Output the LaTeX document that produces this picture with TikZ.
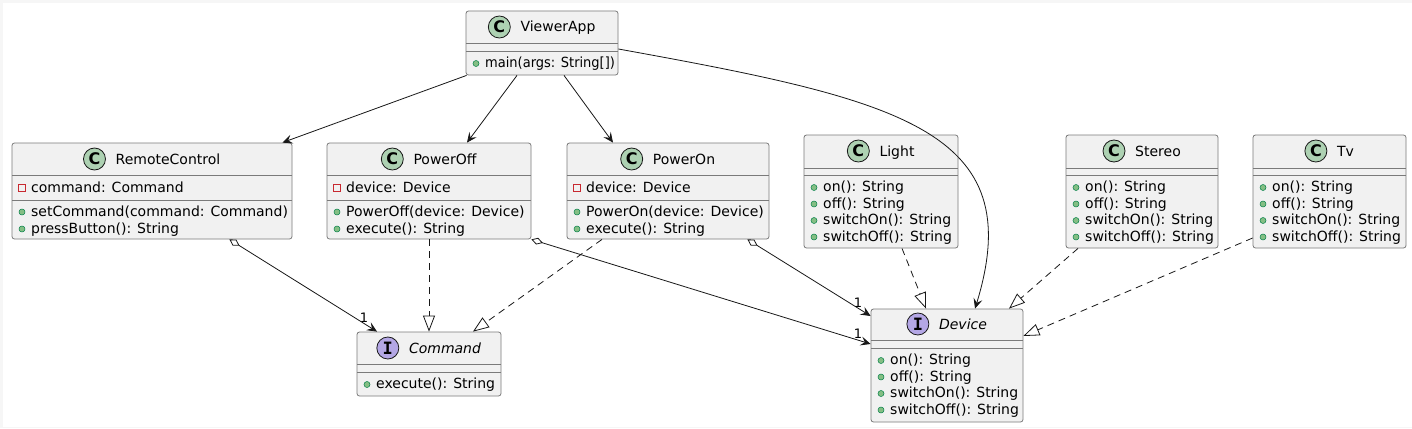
\documentclass[tikz,border=0pt]{standalone}
\usepackage{fontspec}
\setmainfont{DejaVu Sans}
\newfontfamily\iconmono{DejaVu Sans Mono}
\usetikzlibrary{arrows.meta,fit,calc}
\definecolor{boxfill}{HTML}{F1F1F1}
\definecolor{boxline}{HTML}{7A7A7A}
\definecolor{cfill}{HTML}{ADD1B2}
\definecolor{ifill}{HTML}{B4A7E5}
\definecolor{iconline}{HTML}{181818}
\definecolor{pubfill}{HTML}{84BE84}
\definecolor{publine}{HTML}{038048}
\definecolor{privline}{HTML}{C82930}
\definecolor{edge}{HTML}{181818}
\definecolor{frame}{HTML}{F6F6F6}
\tikzset{
  classbox/.style={draw=boxline, fill=boxfill, line width=0.8pt, rounded corners=2.5pt, inner sep=0pt},
  sepline/.style={draw=boxline, line width=0.8pt},
  cicon/.style={circle, minimum size=22pt, inner sep=0pt, fill=cfill, draw=iconline, line width=0.8pt, font=\fontsize{16}{16}\selectfont\bfseries},
  iicon/.style={circle, minimum size=22pt, inner sep=0pt, fill=ifill, draw=iconline, line width=0.8pt, font=\fontsize{17}{17}\selectfont\iconmono\bfseries},
  pubdot/.style={circle, minimum size=6pt, inner sep=0pt, fill=pubfill, draw=publine, line width=0.5pt},
  privsq/.style={rectangle, minimum size=6.5pt, inner sep=0pt, draw=privline, line width=0.7pt},
  member/.style={anchor=base west, inner sep=0pt},
  mult/.style={inner sep=0pt, font=\fontsize{13}{13}\selectfont},
  assoc/.style={draw=edge, line width=0.8pt, -{Stealth[length=10pt, width=9pt, inset=4pt]}},
  agg/.style={draw=edge, line width=0.8pt, {Diamond[open, length=12pt, width=7pt]}-{Stealth[length=10pt, width=9pt, inset=4pt]}},
  realize/.style={draw=edge, line width=0.8pt, dash pattern=on 7pt off 5pt, -{Triangle[open, length=16pt, width=12pt]}},
}
% box: name, left, top, right, bottom, sep1, sep2
\newcommand\ubox[7]{%
  \node[classbox, fit={(#2,#3) (#4,#5)}] (#1) {};
  \draw[sepline] (#2,#6) -- (#4,#6);
  \draw[sepline] (#2,#7) -- (#4,#7);
}
% header: name, center x, icon center y, icon style, letter, text
\newcommand\uhead[6]{%
  \node[anchor=base, inner sep=0pt] (#1) at (#2,#3+5) {\hspace{32pt}#6};
  \node[#4] (#1i) at ([shift={(11,-5)}]#1.base west) {#5};
}
% public member: name, left, baseline, text
\newcommand\upub[4]{%
  \node[pubdot] (#1d) at (#2+10,#3-4) {};
  \node[member] (#1) at (#2+19,#3) {#4};
}
\newcommand\upriv[4]{%
  \node[privsq] (#1d) at (#2+10,#3-4) {};
  \node[member] (#1) at (#2+19,#3) {#4};
}
\begin{document}
\begin{tikzpicture}[x=1pt, y=-1pt, font=\fontsize{14}{16}\selectfont]
\useasboundingbox (0,0) rectangle (1412,428);
\fill[frame] (0,0) rectangle (1412,428);
\fill[white] (3,3) rectangle (1412,427);

% ViewerApp
\ubox{va}{466}{11}{618}{75}{43}{51}
\uhead{vah}{542}{27}{cicon}{C}{ViewerApp}
\upub{vam1}{466}{67.5}{\scalebox{0.93}[1]{main(args: String[])}}

% RemoteControl
\ubox{rc}{12}{143}{292}{239}{175}{200}
\uhead{rch}{152}{159}{cicon}{C}{RemoteControl}
\upriv{rca1}{12}{192}{command: Command}
\upub{rcm1}{12}{216}{setCommand(command: Command)}
\upub{rcm2}{12}{233}{pressButton(): String}

% PowerOff
\ubox{poff}{327}{143}{531}{239}{175}{200}
\uhead{poffh}{429}{159}{cicon}{C}{PowerOff}
\upriv{poffa1}{327}{192}{device: Device}
\upub{poffm1}{327}{216}{PowerOff(device: Device)}
\upub{poffm2}{327}{233}{execute(): String}

% PowerOn
\ubox{pon}{567}{143}{769}{239}{175}{200}
\uhead{ponh}{668}{159}{cicon}{C}{PowerOn}
\upriv{pona1}{567}{192}{device: Device}
\upub{ponm1}{567}{216}{PowerOn(device: Device)}
\upub{ponm2}{567}{233}{execute(): String}

% Light
\ubox{light}{804}{135}{958}{248}{168}{175}
\uhead{lighth}{881}{151}{cicon}{C}{Light}
\upub{lightm1}{804}{191.5}{on(): String}
\upub{lightm2}{804}{208}{off(): String}
\upub{lightm3}{804}{224.5}{switchOn(): String}
\upub{lightm4}{804}{241}{switchOff(): String}

% Stereo
\ubox{stereo}{1066}{135}{1218}{248}{168}{175}
\uhead{stereoh}{1142}{151}{cicon}{C}{Stereo}
\upub{stereom1}{1066}{191.5}{on(): String}
\upub{stereom2}{1066}{208}{off(): String}
\upub{stereom3}{1066}{224.5}{switchOn(): String}
\upub{stereom4}{1066}{241}{switchOff(): String}

% Tv
\ubox{tv}{1253}{135}{1406}{248}{168}{175}
\uhead{tvh}{1329.5}{151}{cicon}{C}{Tv}
\upub{tvm1}{1253}{191.5}{on(): String}
\upub{tvm2}{1253}{208}{off(): String}
\upub{tvm3}{1253}{224.5}{switchOn(): String}
\upub{tvm4}{1253}{241}{switchOff(): String}

% Command
\ubox{cmd}{357}{332}{501}{396}{364}{372}
\uhead{cmdh}{429}{348}{iicon}{I}{\itshape Command}
\upub{cmdm1}{357}{388.5}{execute(): String}

% Device
\ubox{dev}{871}{309}{1023}{422}{340}{348}
\uhead{devh}{947}{324}{iicon}{I}{\itshape Device}
\upub{devm1}{871}{364.5}{on(): String}
\upub{devm2}{871}{381}{off(): String}
\upub{devm3}{871}{397.5}{switchOn(): String}
\upub{devm4}{871}{414}{switchOff(): String}

% associations from ViewerApp
\draw[assoc] ([xshift=1pt]va.south west) -- ([xshift=-10pt]rc.north east);
\draw[assoc] ([xshift=-25pt]va.south) -- ([xshift=38pt]poff.north);
\draw[assoc] ([xshift=22pt]va.south) -- ([xshift=-55pt]pon.north);
\draw[assoc] ([yshift=-6pt]va.east) .. controls (900,100) and (1030,130) .. ([xshift=28pt]dev.north);

% realizations
\draw[realize] ([xshift=21pt]light.south) -- ([xshift=-21pt]dev.north);
\draw[realize] ([xshift=-64pt]stereo.south) -- ([xshift=62pt]dev.north);
\draw[realize] ([yshift=-46.5pt]tv.west) -- ([yshift=29.5pt]dev.east);
\draw[realize] (poff.south) -- (cmd.north);
\draw[realize] ([xshift=-66pt]pon.south) -- ([xshift=44pt]cmd.north);

% aggregations
\draw[agg] ([xshift=-63pt]rc.south east) -- ([xshift=-52pt]cmd.north);
\draw[agg] ([xshift=-22pt]pon.south east) -- ([yshift=49.5pt]dev.west);
\draw[agg] (poff.south east) -- ([yshift=21.5pt]dev.west);

% multiplicities
\node[mult] (mrc) at (364,318) {1};
\node[mult] (mpon) at (858,303) {1};
\node[mult] (mpoff) at (858,334) {1};
\end{tikzpicture}
\end{document}
